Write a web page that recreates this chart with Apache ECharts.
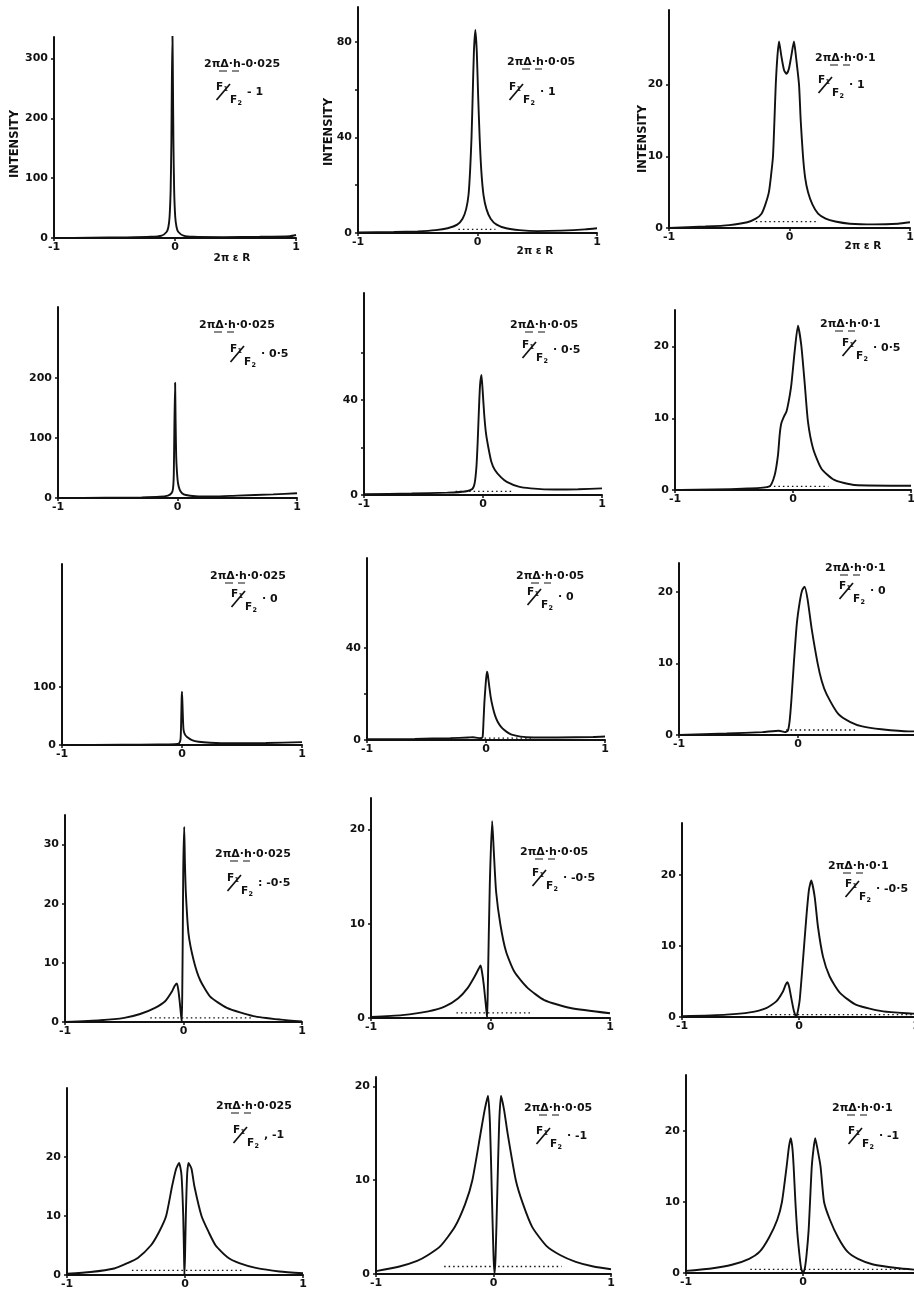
<!DOCTYPE html>
<html>
<head>
<meta charset="utf-8">
<script src="https://cdn.jsdelivr.net/npm/echarts@6/dist/echarts.min.js"></script>
<style>
html, body { margin: 0; padding: 0; background: #fff; }
#chart { width: 914px; height: 1289px; }
</style>
</head>
<body>
<div id="chart"></div>
<script>
// x ticks shared by all panels
const xTicks = [-1, 0, 1]

// value at the top end of each drawn y axis (rows top→bottom, columns left→right)
const yMax = [336, 94.6, 30.4, 318, 85, 25.1, 312, 79, 24, 35, 23.35, 27.3, 31.7, 21, 27.9]
const yLabels = [
  [0, 100, 200, 300], [0, 40, 80], [0, 10, 20],
  [0, 100, 200], [0, 40], [0, 10, 20],
  [0, 100], [0, 40], [0, 10, 20],
  [0, 10, 20, 30], [0, 10, 20], [0, 10, 20],
  [0, 10, 20], [0, 10, 20], [0, 10, 20]
]
const yTicks = [
  [0, 100, 200, 300], [0, 20, 40, 60, 80], [0, 10, 20],
  [0, 100, 200], [0, 20, 40, 60], [0, 10, 20],
  [0, 100], [0, 20, 40], [0, 10, 20],
  [0, 10, 20, 30], [0, 10, 20], [0, 10, 20],
  [0, 10, 20], [0, 10, 20], [0, 10, 20]
]
const dhLabels = [
  '2πΔ·h-0·025', '2πΔ·h·0·05', '2πΔ·h·0·1',
  '2πΔ·h·0·025', '2πΔ·h·0·05', '2πΔ·h·0·1',
  '2πΔ·h·0·025', '2πΔ·h·0·05', '2πΔ·h·0·1',
  '2πΔ·h·0·025', '2πΔ·h·0·05', '2πΔ·h·0·1',
  '2πΔ·h·0·025', '2πΔ·h·0·05', '2πΔ·h·0·1'
]
const ratioLabels = [
  '- 1', '· 1', '· 1',
  '· 0·5', '· 0·5', '· 0·5',
  '· 0', '· 0', '· 0',
  ': -0·5', '· -0·5', '· -0·5',
  ', -1', '· -1', '· -1'
]

// intensity curves [2πεR, intensity]
const c11 = [[-1,0],[-0.7,0.5],[-0.4,1],[-0.2,2],[-0.11,4],[-0.07,10],[-0.055,18],[-0.045,35],[-0.036,80],[-0.03,160],[-0.026,260],[-0.021,340],[-0.017,260],[-0.013,160],[-0.007,80],[0.002,35],[0.013,18],[0.028,10],[0.07,4],[0.15,2],[0.4,1.5],[0.7,2],[0.95,3],[1,5]]
const c12 = [[-1,0.2],[-0.7,0.4],[-0.5,0.7],[-0.35,1.2],[-0.25,2],[-0.17,3.5],[-0.125,6],[-0.095,10],[-0.075,16],[-0.062,26],[-0.05,40],[-0.04,58],[-0.03,76],[-0.018,85],[-0.006,76],[0.005,58],[0.018,40],[0.032,26],[0.05,16],[0.075,10],[0.11,6],[0.16,3.5],[0.24,2],[0.35,1.2],[0.5,0.8],[0.7,1],[0.9,1.5],[1,2]]
const c13 = [[-1,0],[-0.7,0.2],[-0.5,0.4],[-0.35,0.8],[-0.28,1.3],[-0.232,2],[-0.2,3.3],[-0.171,5],[-0.152,7.5],[-0.137,10],[-0.125,15],[-0.114,20],[-0.1,24],[-0.087,26],[-0.068,24],[-0.045,22],[-0.024,21.5],[-0.005,22.2],[0.015,24],[0.037,26],[0.053,24],[0.079,20],[0.093,15],[0.112,10],[0.13,7],[0.154,5],[0.19,3.3],[0.237,2],[0.3,1.3],[0.38,0.9],[0.5,0.6],[0.7,0.5],[0.9,0.6],[1,0.8]]
const c21 = [[-1,0],[-0.6,0.5],[-0.3,1],[-0.15,2],[-0.08,4],[-0.05,8],[-0.038,15],[-0.031,40],[-0.026,120],[-0.02,192],[-0.016,130],[-0.011,70],[-0.004,42],[0.004,25],[0.018,14],[0.038,8],[0.07,5],[0.15,3],[0.3,2.5],[0.5,4],[0.8,6],[1,8]]
const c22 = [[-1,0.3],[-0.6,0.6],[-0.3,1],[-0.15,1.5],[-0.09,2.5],[-0.07,5],[-0.055,12],[-0.045,22],[-0.035,35],[-0.025,46],[-0.013,50.5],[-0.003,44],[0.01,34],[0.025,26],[0.045,20],[0.07,14],[0.1,10.5],[0.15,7.5],[0.2,5.5],[0.3,3.5],[0.4,2.8],[0.6,2.3],[0.8,2.4],[1,2.8]]
const c23 = [[-1,0],[-0.95,0],[-0.38,0.2],[-0.2,0.5],[-0.155,2.1],[-0.127,4.9],[-0.113,7.7],[-0.099,9.3],[-0.075,10.3],[-0.056,10.9],[-0.035,12.5],[-0.014,14.7],[0.014,19.3],[0.042,22.9],[0.07,20.2],[0.1,14.7],[0.127,9.5],[0.17,5.8],[0.24,3],[0.35,1.4],[0.52,0.7],[1,0.6]]
const c31 = [[-1,0],[-0.5,0.5],[-0.2,1],[-0.06,1.5],[-0.025,2.5],[-0.012,10],[-0.007,40],[-0.003,80],[0,92],[0.004,70],[0.008,45],[0.013,26],[0.025,18],[0.042,14],[0.083,8.6],[0.139,5.7],[0.236,4],[0.4,3],[0.7,3.5],[1,5]]
const c32 = [[-1,0.3],[-0.6,0.5],[-0.3,0.8],[-0.15,1.1],[-0.11,1.2],[-0.07,0.9],[-0.04,0.8],[-0.028,1.5],[-0.021,8],[-0.014,15.9],[-0.006,22],[0,26],[0.008,29.6],[0.016,28],[0.028,23],[0.04,18.5],[0.056,14.4],[0.075,10.8],[0.098,7.9],[0.125,5.8],[0.154,4.3],[0.19,3],[0.224,2.2],[0.337,1.2],[0.6,1.1],[0.9,1.3],[1,1.5]]
const c33 = [[-1,0],[-0.6,0.2],[-0.3,0.4],[-0.16,0.6],[-0.11,0.4],[-0.085,0.6],[-0.07,2],[-0.055,5],[-0.035,10],[-0.01,15.5],[0.015,18.6],[0.035,20.2],[0.055,20.7],[0.08,19],[0.115,14.8],[0.165,10],[0.2,7.5],[0.24,5.7],[0.34,2.9],[0.44,1.8],[0.54,1.2],[0.7,0.8],[0.93,0.5],[1,0.5]]
const c41 = [[-1,0],[-0.7,0.3],[-0.5,0.7],[-0.366,1.35],[-0.24,2.4],[-0.155,3.5],[-0.099,5.1],[-0.075,6.1],[-0.056,6.5],[-0.045,5.6],[-0.034,3.8],[-0.02,1],[-0.014,0],[-0.01,6],[-0.006,15],[-0.002,26],[0.006,33],[0.012,27],[0.02,21.8],[0.042,15],[0.085,10.5],[0.14,7.1],[0.225,4.3],[0.366,2.4],[0.59,1],[0.82,0.4],[1,0.1]]
const c42 = [[-1,0.1],[-0.74,0.3],[-0.52,0.7],[-0.38,1.23],[-0.27,2.1],[-0.19,3.2],[-0.133,4.4],[-0.1,5.2],[-0.083,5.57],[-0.07,4.8],[-0.056,3.5],[-0.036,1],[-0.028,0],[-0.022,3.5],[-0.006,14.1],[0.014,20.9],[0.028,17.6],[0.047,13.4],[0.083,9.9],[0.13,7.05],[0.2,4.9],[0.31,3.2],[0.45,1.9],[0.67,1.06],[1,0.5]]
const c43 = [[-1,0.1],[-0.62,0.33],[-0.42,0.65],[-0.28,1.26],[-0.194,2.2],[-0.137,3.6],[-0.115,4.5],[-0.1,4.9],[-0.085,4.3],[-0.066,2.67],[-0.043,0.8],[-0.023,0],[-0.01,0.8],[0.006,2.4],[0.034,8],[0.063,14.1],[0.085,17.9],[0.105,19.2],[0.134,16.9],[0.162,12.7],[0.205,8.5],[0.262,5.7],[0.35,3.4],[0.49,1.7],[0.72,0.8],[0.97,0.47],[1,0.45]]
const c51 = [[-1,0.2],[-0.8,0.5],[-0.6,1.1],[-0.49,2],[-0.4,2.9],[-0.29,5],[-0.22,7.3],[-0.16,10],[-0.11,15],[-0.075,18],[-0.05,19],[-0.03,17],[-0.015,10],[-0.008,3],[-0.005,0],[0,3],[0.007,10],[0.018,17],[0.03,19],[0.055,18],[0.08,15],[0.14,10],[0.2,7.3],[0.26,5],[0.36,3],[0.46,2],[0.6,1.2],[0.8,0.6],[1,0.3]]
const c52 = [[-1,0.3],[-0.8,0.8],[-0.65,1.4],[-0.56,2],[-0.45,3],[-0.33,5],[-0.24,7.5],[-0.18,10],[-0.11,15],[-0.075,17.5],[-0.047,19],[-0.03,16],[-0.015,9],[0,2],[0.009,0],[0.018,2],[0.033,9],[0.048,16],[0.064,19],[0.09,17.5],[0.12,15],[0.19,10],[0.25,7.5],[0.33,5],[0.45,3],[0.57,2],[0.7,1.3],[0.85,0.8],[1,0.5]]
const c53 = [[-1,0.3],[-0.8,0.6],[-0.6,1.2],[-0.46,2],[-0.37,3],[-0.29,5],[-0.22,7.5],[-0.18,10],[-0.14,15],[-0.12,17.8],[-0.104,19],[-0.09,17.5],[-0.08,15],[-0.065,10],[-0.05,6],[-0.03,2.5],[-0.015,0.6],[0,0],[0.015,0.6],[0.03,2.5],[0.048,6],[0.06,10],[0.075,15],[0.09,17.5],[0.104,19],[0.12,17.8],[0.15,15],[0.18,10],[0.23,7.5],[0.3,5],[0.38,3],[0.47,2],[0.6,1.2],[0.8,0.7],[1,0.4]]

// dotted background levels
const d12 = [[-0.16,1.5],[0.15,1.5]]
const d13 = [[-0.28,0.9],[0.24,0.9]]
const d22 = [[-0.23,1.5],[0.24,1.5]]
const d23 = [[-0.2,0.5],[0.3,0.5]]
const d32 = [[-0.05,0.8],[0.4,0.8]]
const d33 = [[-0.1,0.7],[0.5,0.7]]
const d41 = [[-0.28,0.7],[0.59,0.7]]
const d42 = [[-0.285,0.55],[0.33,0.55]]
const d43 = [[-0.28,0.33],[1,0.33]]
const d51 = [[-0.45,0.8],[0.5,0.8]]
const d52 = [[-0.42,0.8],[0.58,0.8]]
const d53 = [[-0.45,0.5],[0.9,0.5]]

const curves = [c11, c12, c13, c21, c22, c23, c31, c32, c33, c41, c42, c43, c51, c52, c53]
const dots = [null, d12, d13, null, d22, d23, null, d32, d33, d41, d42, d43, d51, d52, d53]

// layout: [x of -1, x of 1, axis top, y of 0] in px
const boxes = [
  [54, 296, 37, 238], [358, 597, 7, 233], [669, 910, 10, 228],
  [58, 297, 307, 498], [364, 602, 293, 495], [675, 911, 310, 490],
  [62, 302, 564, 745], [367, 605, 558, 740], [679, 917, 563, 735],
  [65, 302, 815, 1022], [371, 610, 798, 1018], [682, 916, 823, 1017],
  [67, 303, 1088, 1275], [376, 611, 1077, 1274], [686, 920, 1075, 1273]
]
// [main text left, main text middle, fraction left, fraction middle]
const textAt = [
  [204, 64, 216, 87], [507, 62, 509, 87], [815, 58, 818, 80],
  [199, 325, 230, 349], [510, 325, 522, 345], [820, 324, 842, 343],
  [210, 576, 231, 594], [516, 576, 527, 592], [825, 568, 839, 586],
  [215, 854, 227, 878], [520, 852, 532, 873], [828, 866, 845, 884],
  [216, 1106, 233, 1130], [524, 1108, 536, 1131], [832, 1108, 848, 1131]
]

const FONT = 'DejaVu Sans'
const INK = '#111'

const labelFont = { color: INK, fontFamily: FONT, fontWeight: 'bold', fontSize: 11 }

function txt(x, y, text, size, align) {
  const a = align || 'left'
  return {
    type: 'text', x: x, y: y,
    style: {
      text: text, fill: INK,
      font: 'bold ' + size + 'px "' + FONT + '"',
      align: a, verticalAlign: 'middle',
      textAlign: a, textVerticalAlign: 'middle'
    }
  }
}

function seg(x1, y1, x2, y2, w) {
  return { type: 'line', shape: { x1: x1, y1: y1, x2: x2, y2: y2 }, style: { stroke: INK, lineWidth: w } }
}

const grid = [], xAxis = [], yAxis = [], series = [], graphic = []

boxes.forEach((b, i) => {
  grid.push({
    left: b[0], top: b[2], width: b[1] - b[0], height: b[3] - b[2],
    containLabel: false, outerBoundsMode: 'none'
  })
  xAxis.push({
    gridIndex: i, type: 'value', min: -1, max: 1,
    axisLine: { show: true, onZero: false, lineStyle: { color: INK, width: 2 } },
    axisTick: { show: true, customValues: xTicks, length: 3, lineStyle: { color: INK, width: 1.5 } },
    axisLabel: Object.assign({ customValues: xTicks, margin: 4 }, labelFont),
    splitLine: { show: false }
  })
  yAxis.push({
    gridIndex: i, type: 'value', min: 0, max: yMax[i],
    axisLine: { show: true, onZero: false, lineStyle: { color: INK, width: 2 } },
    axisTick: { show: true, customValues: yTicks[i], length: 3, lineStyle: { color: INK, width: 1.5 } },
    axisLabel: Object.assign({ customValues: yLabels[i], margin: 6 }, labelFont),
    splitLine: { show: false }
  })
  series.push({
    type: 'line', xAxisIndex: i, yAxisIndex: i, data: curves[i],
    showSymbol: false, smooth: 0.2, silent: true,
    lineStyle: { color: INK, width: 1.9 }
  })
  if (dots[i]) {
    series.push({
      type: 'line', xAxisIndex: i, yAxisIndex: i, data: dots[i],
      showSymbol: false, silent: true,
      lineStyle: { color: INK, width: 1.3, type: [1.5, 3] }
    })
  }

  // panel annotation: 2πΔ·h value (Δ and h underlined) and F1/F2 ratio
  const [mx, my, fx, fy] = textAt[i]
  graphic.push(txt(mx, my, dhLabels[i], 11))
  graphic.push(seg(mx + 15, my + 7, mx + 23, my + 7, 1))
  graphic.push(seg(mx + 28, my + 7, mx + 35, my + 7, 1))
  graphic.push(txt(fx, fy, 'F', 10.5))
  graphic.push(txt(fx + 7.5, fy + 2.5, '1', 6.5))
  graphic.push(seg(fx + 0.5, fy + 13, fx + 14, fy - 3, 1.7))
  graphic.push(txt(fx + 14, fy + 13, 'F', 10.5))
  graphic.push(txt(fx + 21.5, fy + 16, '2', 6.5))
  graphic.push(txt(fx + 31, fy + 5, ratioLabels[i], 11))
})

// axis titles on the top row
const titleAt = [[15, 144, 232, 258], [329, 132, 535, 251], [643, 139, 863, 246]]
titleAt.forEach(t => {
  const yName = txt(t[0], t[1], 'INTENSITY', 11.5, 'center')
  yName.rotation = Math.PI / 2
  graphic.push(yName)
  graphic.push(txt(t[2], t[3], '2π ε R', 10.5, 'center'))
})

const chart = echarts.init(document.getElementById('chart'), null, { renderer: 'canvas' })
chart.setOption({
  animation: false,
  backgroundColor: '#fff',
  grid: grid,
  xAxis: xAxis,
  yAxis: yAxis,
  series: series,
  graphic: graphic
})
</script>
</body>
</html>
